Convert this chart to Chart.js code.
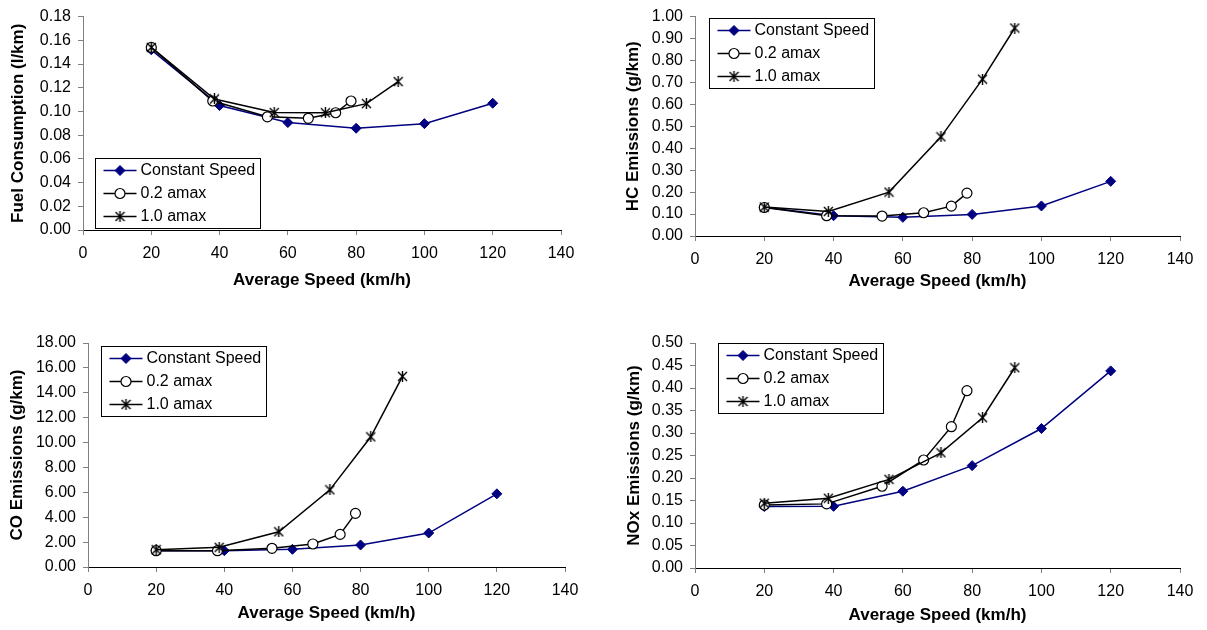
<!DOCTYPE html>
<html>
<head>
<meta charset="utf-8">
<script src="https://cdn.jsdelivr.net/npm/chart.js@4/dist/chart.umd.min.js"></script>
<style>
  body { margin: 0; background: #fff; width: 1207px; height: 630px; position: relative; overflow: hidden; }
  canvas { position: absolute; }
</style>
</head>
<body>
<canvas id="fuel" width="603" height="315" style="left:0;top:0"></canvas>
<canvas id="hc" width="604" height="315" style="left:603px;top:0"></canvas>
<canvas id="co" width="603" height="315" style="left:0;top:315px"></canvas>
<canvas id="nox" width="604" height="315" style="left:603px;top:315px"></canvas>
<script>
// average speeds (km/h) for each driving case
const speedConst = [20, 40, 60, 80, 100, 120];
const speedLow = [20, 38, 54, 66, 74, 78.5];
const speedHigh = [20, 38.5, 56, 71, 83, 92.3];
const seriesNames = ["Constant Speed", "0.2 amax", "1.0 amax"];

// fuel consumption (l/km)
const fuelConst = [0.152, 0.105, 0.0906, 0.0858, 0.0897, 0.1069];
const fuelLow = [0.154, 0.1088, 0.0955, 0.0942, 0.0989, 0.1088];
const fuelHigh = [0.154, 0.1105, 0.0991, 0.0989, 0.1066, 0.1252];

// HC emissions (g/km)
const hcConst = [0.131, 0.0925, 0.085, 0.0985, 0.137, 0.249];
const hcLow = [0.13, 0.0925, 0.091, 0.106, 0.136, 0.1955];
const hcHigh = [0.132, 0.112, 0.2, 0.452, 0.715, 0.948];

// CO emissions (g/km)
const coConst = [1.31, 1.31, 1.42, 1.77, 2.73, 5.88];
const coLow = [1.31, 1.31, 1.5, 1.85, 2.62, 4.31];
const coHigh = [1.39, 1.58, 2.83, 6.2, 10.46, 15.32];

// NOx emissions (g/km)
const noxConst = [0.1366, 0.137, 0.1706, 0.2275, 0.31, 0.438];
const noxLow = [0.14, 0.1425, 0.1817, 0.24, 0.314, 0.394];
const noxHigh = [0.144, 0.155, 0.197, 0.256, 0.334, 0.445];

const FONT = '"Liberation Sans", Arial, sans-serif';

// excel style star marker: X plus a vertical bar
function makeStar() {
  const c = document.createElement("canvas");
  c.width = 11; c.height = 11;
  const g = c.getContext("2d");
  g.strokeStyle = "#000"; g.lineWidth = 1.4;
  g.beginPath();
  g.moveTo(1, 1); g.lineTo(10, 10);
  g.moveTo(10, 1); g.lineTo(1, 10);
  g.moveTo(5.5, 0); g.lineTo(5.5, 11);
  g.stroke();
  return c;
}
const star = makeStar();

function drawMarker(ctx, ds, x, y) {
  if (ds.pointStyle === star) {
    ctx.drawImage(star, x - 5.5, y - 5.5);
    return;
  }
  const r = ds.pointRadius;
  ctx.beginPath();
  if (ds.pointStyle === "rectRot") {
    ctx.moveTo(x - r, y); ctx.lineTo(x, y - r); ctx.lineTo(x + r, y); ctx.lineTo(x, y + r); ctx.closePath();
  } else {
    ctx.arc(x, y, r, 0, Math.PI * 2);
  }
  ctx.fillStyle = ds.backgroundColor;
  ctx.fill();
  ctx.lineWidth = ds.pointBorderWidth;
  ctx.strokeStyle = ds.borderColor;
  ctx.stroke();
}

const boxLegend = {
  id: "boxLegend",
  afterDraw(chart, args, opts) {
    const ctx = chart.ctx, a = chart.chartArea;
    const bx = Math.round(a.left + opts.x) + 0.5, by = Math.round(a.top + opts.y) + 0.5;
    ctx.save();
    ctx.fillStyle = "#fff";
    ctx.fillRect(bx, by, 165, 70);
    ctx.strokeStyle = "#000"; ctx.lineWidth = 1;
    ctx.strokeRect(bx, by, 165, 70);
    chart.data.datasets.forEach((ds, i) => {
      const cy = by + 12 + i * 23;
      ctx.strokeStyle = ds.borderColor; ctx.lineWidth = ds.borderWidth;
      ctx.beginPath(); ctx.moveTo(bx + 8, cy); ctx.lineTo(bx + 41, cy); ctx.stroke();
      drawMarker(ctx, ds, bx + 24.5, cy);
      ctx.fillStyle = "#000";
      ctx.font = "16px " + FONT;
      ctx.textBaseline = "middle";
      ctx.fillText(ds.label, bx + 45, cy);
    });
    ctx.restore();
  }
};

function pts(xs, ys) {
  return xs.map((x, i) => ({ x: x, y: ys[i] }));
}

function makeChart(id, g, yMax, yStep, yTitle, cons, low, high) {
  const canvas = document.getElementById(id);
  const cw = canvas.width, ch = canvas.height;
  return new Chart(canvas.getContext("2d"), {
    type: "line",
    data: {
      datasets: [
        {
          label: seriesNames[0], data: pts(speedConst, cons), order: 3,
          borderColor: "#000080", backgroundColor: "#000080", borderWidth: 1.5,
          pointStyle: "rectRot", pointRadius: 5, pointBorderWidth: 1,
        },
        {
          label: seriesNames[1], data: pts(speedLow, low), order: 2,
          borderColor: "#000", backgroundColor: "#fff", borderWidth: 1.5,
          pointStyle: "circle", pointRadius: 5, pointBorderWidth: 1.2,
        },
        {
          label: seriesNames[2], data: pts(speedHigh, high), order: 1,
          borderColor: "#000", backgroundColor: "#000", borderWidth: 1.5,
          pointStyle: star, pointRadius: 5, pointBorderWidth: 1,
        },
      ],
    },
    options: {
      responsive: false,
      animation: false,
      devicePixelRatio: 1,
      layout: { padding: { left: 0, top: g.T, right: cw - g.R, bottom: 0 } },
      elements: { line: { tension: 0 } },
      plugins: {
        legend: { display: false },
        tooltip: { enabled: false },
        boxLegend: { x: g.lx, y: g.ly },
      },
      scales: {
        x: {
          type: "linear", min: 0, max: 140,
          ticks: { stepSize: 20, color: "#000", font: { family: FONT, size: 16 }, padding: 9, maxRotation: 0 },
          grid: { drawOnChartArea: false, drawTicks: true, tickLength: 5, color: "#808080" },
          border: { color: "#000", width: 1 },
          title: {
            display: true, text: "Average Speed (km/h)", color: "#000",
            font: { family: FONT, size: 17, weight: "bold" }, padding: { top: 0, bottom: g.xpb },
          },
          afterFit: (s) => { s.height = ch - g.B; },
        },
        y: {
          min: 0, max: yMax,
          ticks: {
            stepSize: yStep, autoSkip: false, color: "#000", padding: 7,
            font: { family: FONT, size: 16 },
            callback: (v) => v.toFixed(2),
          },
          grid: { drawOnChartArea: false, drawTicks: true, tickLength: 5, color: "#808080" },
          border: { color: "#808080", width: 1 },
          title: {
            display: true, text: yTitle, color: "#000",
            font: { family: FONT, size: 17, weight: "bold" }, padding: { top: g.ypt, bottom: 0 },
          },
          afterFit: (s) => { s.width = g.L; },
        },
      },
    },
    plugins: [boxLegend],
  });
}

makeChart("fuel", { L: 83, T: 13, R: 561, B: 230, lx: 12, ly: 141, xpb: 24.8, ypt: 8.2 },
  0.18, 0.02, "Fuel Consumption (l/km)", fuelConst, fuelLow, fuelHigh);
makeChart("hc", { L: 92, T: 12, R: 577, B: 236, lx: 14, ly: 1, xpb: 23.1, ypt: 19.8 },
  1, 0.1, "HC Emissions (g/km)", hcConst, hcLow, hcHigh);
makeChart("co", { L: 88, T: 28, R: 565, B: 252, lx: 13, ly: 3, xpb: 6.5, ypt: 7 },
  18, 2, "CO Emissions (g/km)", coConst, coLow, coHigh);
makeChart("nox", { L: 92, T: 28, R: 577, B: 253, lx: 23, ly: 0, xpb: 4.8, ypt: 20.8 },
  0.5, 0.05, "NOx Emissions (g/km)", noxConst, noxLow, noxHigh);
</script>
</body>
</html>
